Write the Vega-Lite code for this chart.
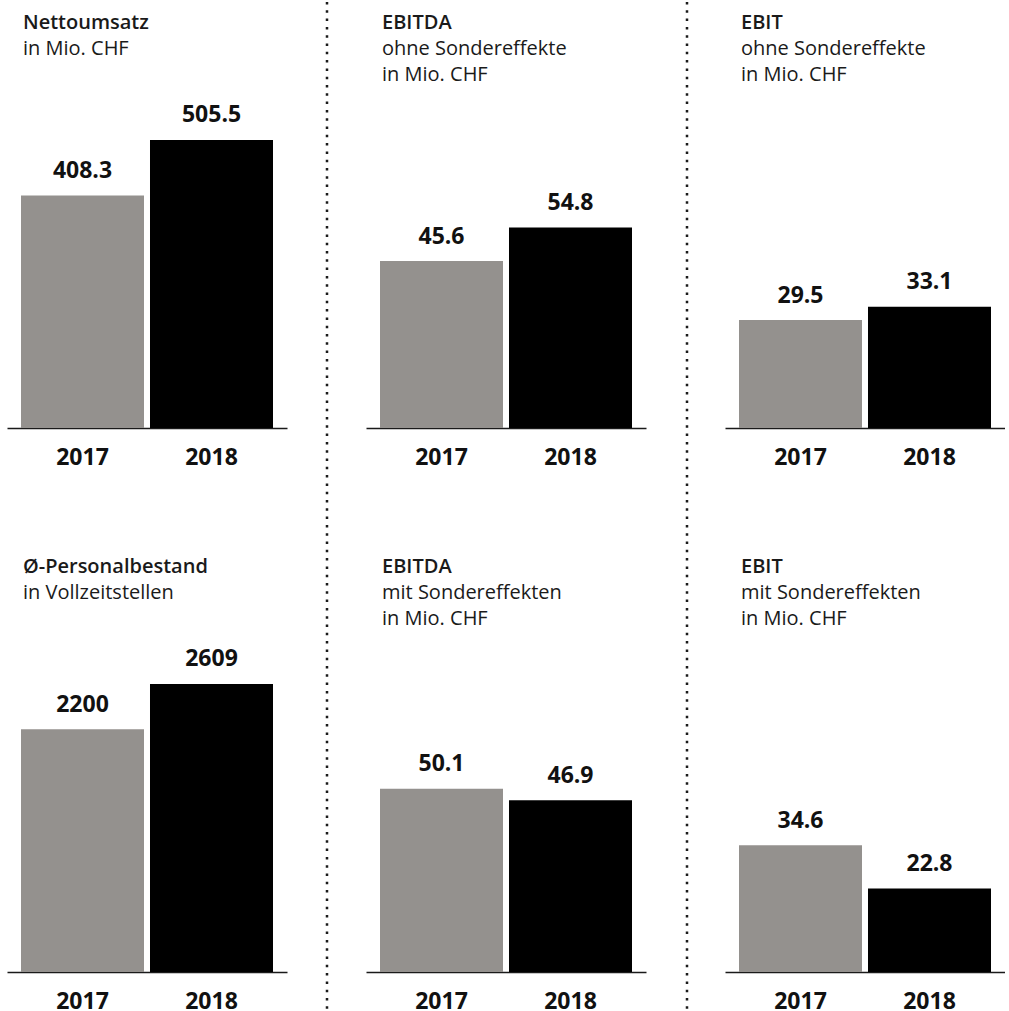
{
  "$schema": "https://vega.github.io/schema/vega-lite/v6.json",
  "padding": {"left": 7, "top": 0, "right": 0, "bottom": 0},
  "datasets": {
    "kpi": [
      {"panel": "umsatz", "year": "2017", "value": 408.3},
      {"panel": "umsatz", "year": "2018", "value": 505.5},
      {"panel": "ebitda_ohne", "year": "2017", "value": 45.6},
      {"panel": "ebitda_ohne", "year": "2018", "value": 54.8},
      {"panel": "ebit_ohne", "year": "2017", "value": 29.5},
      {"panel": "ebit_ohne", "year": "2018", "value": 33.1},
      {"panel": "personal", "year": "2017", "value": 2200},
      {"panel": "personal", "year": "2018", "value": 2609},
      {"panel": "ebitda_mit", "year": "2017", "value": 50.1},
      {"panel": "ebitda_mit", "year": "2018", "value": 46.9},
      {"panel": "ebit_mit", "year": "2017", "value": 34.6},
      {"panel": "ebit_mit", "year": "2018", "value": 22.8}
    ]
  },
  "data": {"name": "kpi"},
  "spacing": 0,
  "hconcat": [
    {
      "spacing": 88,
      "vconcat": [
        {
          "width": 280, "height": 337,
          "title": {"text": "Nettoumsatz", "subtitle": ["in Mio. CHF", " "]},
          "transform": [{"filter": "datum.panel === 'umsatz'"}],
          "encoding": {
            "x": {"field": "year", "type": "ordinal", "scale": {"paddingInner": 0.0465, "paddingOuter": 0.1085}},
            "y": {"field": "value", "type": "quantitative", "scale": {"domain": [0, 591.5], "nice": false}, "axis": null}
          },
          "layer": [
            {"mark": "bar", "encoding": {"color": {"field": "year", "type": "nominal", "scale": {"domain": ["2017", "2018"], "range": ["#94918e", "#000000"]}, "legend": null}}},
            {"mark": {"type": "text", "dy": -17.5, "baseline": "alphabetic", "fontSize": 23, "fontWeight": "bold", "color": "#111111"}, "encoding": {"text": {"field": "value", "type": "quantitative", "format": ".1f"}}}
          ]
        },
        {
          "width": 280, "height": 337,
          "title": {"text": "Ø-Personalbestand", "subtitle": ["in Vollzeitstellen", " "]},
          "transform": [{"filter": "datum.panel === 'personal'"}],
          "encoding": {
            "x": {"field": "year", "type": "ordinal", "scale": {"paddingInner": 0.0465, "paddingOuter": 0.1085}},
            "y": {"field": "value", "type": "quantitative", "scale": {"domain": [0, 3052.8], "nice": false}, "axis": null}
          },
          "layer": [
            {"mark": "bar", "encoding": {"color": {"field": "year", "type": "nominal", "scale": {"domain": ["2017", "2018"], "range": ["#94918e", "#000000"]}, "legend": null}}},
            {"mark": {"type": "text", "dy": -17.5, "baseline": "alphabetic", "fontSize": 23, "fontWeight": "bold", "color": "#111111"}, "encoding": {"text": {"field": "value", "type": "quantitative", "format": "d"}}}
          ]
        }
      ]
    },
    {
      "width": 79, "height": 881,
      "data": {"values": [{"separator": "left"}]},
      "mark": {"type": "rule", "strokeDash": [2.5, 5.8], "strokeWidth": 2.5, "color": "#1a1a1a"},
      "encoding": {
        "x": {"datum": 40, "type": "quantitative", "scale": {"domain": [0, 79], "nice": false, "zero": false}, "axis": null},
        "y": {"datum": -89, "type": "quantitative", "scale": {"domain": [0, 881], "reverse": true, "nice": false, "zero": false}, "axis": null},
        "y2": {"datum": 920}
      }
    },
    {
      "spacing": 88,
      "vconcat": [
        {
          "width": 280, "height": 337,
          "title": {"text": "EBITDA", "subtitle": ["ohne Sondereffekte", "in Mio. CHF"]},
          "transform": [{"filter": "datum.panel === 'ebitda_ohne'"}],
          "encoding": {
            "x": {"field": "year", "type": "ordinal", "scale": {"paddingInner": 0.0465, "paddingOuter": 0.1085}},
            "y": {"field": "value", "type": "quantitative", "scale": {"domain": [0, 92.08], "nice": false}, "axis": null}
          },
          "layer": [
            {"mark": "bar", "encoding": {"color": {"field": "year", "type": "nominal", "scale": {"domain": ["2017", "2018"], "range": ["#94918e", "#000000"]}, "legend": null}}},
            {"mark": {"type": "text", "dy": -17.5, "baseline": "alphabetic", "fontSize": 23, "fontWeight": "bold", "color": "#111111"}, "encoding": {"text": {"field": "value", "type": "quantitative", "format": ".1f"}}}
          ]
        },
        {
          "width": 280, "height": 337,
          "title": {"text": "EBITDA", "subtitle": ["mit Sondereffekten", "in Mio. CHF"]},
          "transform": [{"filter": "datum.panel === 'ebitda_mit'"}],
          "encoding": {
            "x": {"field": "year", "type": "ordinal", "scale": {"paddingInner": 0.0465, "paddingOuter": 0.1085}},
            "y": {"field": "value", "type": "quantitative", "scale": {"domain": [0, 92.08], "nice": false}, "axis": null}
          },
          "layer": [
            {"mark": "bar", "encoding": {"color": {"field": "year", "type": "nominal", "scale": {"domain": ["2017", "2018"], "range": ["#94918e", "#000000"]}, "legend": null}}},
            {"mark": {"type": "text", "dy": -17.5, "baseline": "alphabetic", "fontSize": 23, "fontWeight": "bold", "color": "#111111"}, "encoding": {"text": {"field": "value", "type": "quantitative", "format": ".1f"}}}
          ]
        }
      ]
    },
    {
      "width": 79, "height": 881,
      "data": {"values": [{"separator": "right"}]},
      "mark": {"type": "rule", "strokeDash": [2.5, 5.8], "strokeWidth": 2.5, "color": "#1a1a1a"},
      "encoding": {
        "x": {"datum": 41, "type": "quantitative", "scale": {"domain": [0, 79], "nice": false, "zero": false}, "axis": null},
        "y": {"datum": -89, "type": "quantitative", "scale": {"domain": [0, 881], "reverse": true, "nice": false, "zero": false}, "axis": null},
        "y2": {"datum": 920}
      }
    },
    {
      "spacing": 88,
      "vconcat": [
        {
          "width": 280, "height": 337,
          "title": {"text": "EBIT", "subtitle": ["ohne Sondereffekte", "in Mio. CHF"]},
          "transform": [{"filter": "datum.panel === 'ebit_ohne'"}],
          "encoding": {
            "x": {"field": "year", "type": "ordinal", "scale": {"paddingInner": 0.0465, "paddingOuter": 0.1085}},
            "y": {"field": "value", "type": "quantitative", "scale": {"domain": [0, 92.08], "nice": false}, "axis": null}
          },
          "layer": [
            {"mark": "bar", "encoding": {"color": {"field": "year", "type": "nominal", "scale": {"domain": ["2017", "2018"], "range": ["#94918e", "#000000"]}, "legend": null}}},
            {"mark": {"type": "text", "dy": -17.5, "baseline": "alphabetic", "fontSize": 23, "fontWeight": "bold", "color": "#111111"}, "encoding": {"text": {"field": "value", "type": "quantitative", "format": ".1f"}}}
          ]
        },
        {
          "width": 280, "height": 337,
          "title": {"text": "EBIT", "subtitle": ["mit Sondereffekten", "in Mio. CHF"]},
          "transform": [{"filter": "datum.panel === 'ebit_mit'"}],
          "encoding": {
            "x": {"field": "year", "type": "ordinal", "scale": {"paddingInner": 0.0465, "paddingOuter": 0.1085}},
            "y": {"field": "value", "type": "quantitative", "scale": {"domain": [0, 92.08], "nice": false}, "axis": null}
          },
          "layer": [
            {"mark": "bar", "encoding": {"color": {"field": "year", "type": "nominal", "scale": {"domain": ["2017", "2018"], "range": ["#94918e", "#000000"]}, "legend": null}}},
            {"mark": {"type": "text", "dy": -17.5, "baseline": "alphabetic", "fontSize": 23, "fontWeight": "bold", "color": "#111111"}, "encoding": {"text": {"field": "value", "type": "quantitative", "format": ".1f"}}}
          ]
        }
      ]
    }
  ],
  "config": {
    "view": {"stroke": null},
    "font": "Open Sans",
    "title": {
      "anchor": "start", "frame": "group", "font": "Open Sans", "fontSize": 20, "fontWeight": 600, "color": "#1a1a1a",
      "subtitleFont": "Open Sans", "subtitleFontSize": 20, "subtitleFontWeight": "normal", "subtitleColor": "#1a1a1a",
      "subtitleLineHeight": 26, "subtitlePadding": 6, "offset": 6, "dx": 16
    },
    "axisX": {
      "title": null, "ticks": false, "grid": false, "domainColor": "#1a1a1a", "domainWidth": 1.3,
      "labelFont": "Open Sans", "labelFontSize": 23, "labelFontWeight": "bold", "labelColor": "#111111",
      "labelPadding": 18, "labelAngle": 0
    }
  }
}
